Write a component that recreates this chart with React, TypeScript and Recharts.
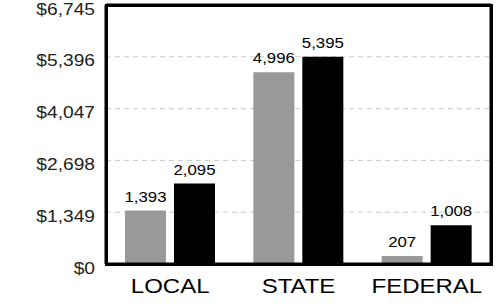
import React from 'react';
import { BarChart, Bar, XAxis, YAxis, CartesianGrid, LabelList } from 'recharts';

// values
const categories = ['LOCAL', 'STATE', 'FEDERAL'];
const grayValues = [1393, 4996, 207];
const blackValues = [2095, 5395, 1008];
const yTicks = [0, 1349, 2698, 4047, 5396, 6745];

const data = categories.map((name, i) => ({ name, gray: grayValues[i], black: blackValues[i] }));

const FONT = '"Liberation Sans", Arial, Helvetica, sans-serif';
const STRETCH = 1.2;
const frame = { stroke: '#000', strokeWidth: 3 };

const fmt = (v: number) => v.toLocaleString('en-US');

function YTick(props: any) {
  const { x, y, payload } = props;
  return (
    <g transform={`translate(${x},${y}) scale(${STRETCH},1)`}>
      <text x={0} y={9.5} textAnchor="end" fontSize={16} fill="#222" fontFamily={FONT}>
        {'$' + fmt(payload.value)}
      </text>
    </g>
  );
}

function XTick(props: any) {
  const { x, y, payload } = props;
  return (
    <g transform={`translate(${x},${y}) scale(${STRETCH},1)`}>
      <text x={0} y={29} textAnchor="middle" fontSize={20} fill="#000" fontFamily={FONT}>
        {payload.value}
      </text>
    </g>
  );
}

function ValueLabel(props: any) {
  const { x, y, width, value } = props;
  return (
    <g transform={`translate(${x + width / 2},${y}) scale(${STRETCH},1)`}>
      <text x={0} y={-9} textAnchor="middle" fontSize={14} fill="#000" fontFamily={FONT}>
        {fmt(value)}
      </text>
    </g>
  );
}

export default function App() {
  return (
    <div style={{ position: 'absolute', left: 0, top: 0, width: 501, height: 308, background: '#fff' }}>
      <BarChart
        width={501}
        height={308}
        data={data}
        margin={{ top: 4, right: 9, bottom: 0, left: 0 }}
        barCategoryGap={19}
        barGap={8}
      >
        <CartesianGrid vertical={false} stroke="#c8c8c8" strokeDasharray="5 4" />
        <Bar dataKey="gray" fill="#999999" isAnimationActive={false}>
          <LabelList dataKey="gray" content={<ValueLabel />} />
        </Bar>
        <Bar dataKey="black" fill="#000000" isAnimationActive={false}>
          <LabelList dataKey="black" content={<ValueLabel />} />
        </Bar>
        <XAxis
          dataKey="name"
          height={44}
          axisLine={frame}
          tickLine={false}
          tickSize={0}
          tickMargin={0}
          tick={<XTick />}
          interval={0}
        />
        <XAxis xAxisId="top" dataKey="name" orientation="top" height={1} axisLine={frame} tick={false} />
        <YAxis
          type="number"
          domain={[0, 6745]}
          allowDataOverflow
          ticks={yTicks}
          width={106}
          axisLine={frame}
          tickLine={false}
          tickSize={0}
          tickMargin={11}
          tick={<YTick />}
          interval={0}
        />
        <YAxis
          yAxisId="right"
          orientation="right"
          domain={[0, 6745]}
          allowDataOverflow
          width={1}
          axisLine={frame}
          tick={false}
        />
      </BarChart>
      {/* plot frame, top edge kept going missing in the svg */}
      <div
        style={{
          position: 'absolute',
          left: 104.5,
          top: 3.5,
          width: 388,
          height: 262,
          border: '3px solid #000',
          boxSizing: 'border-box',
          pointerEvents: 'none',
        }}
      />
    </div>
  );
}
